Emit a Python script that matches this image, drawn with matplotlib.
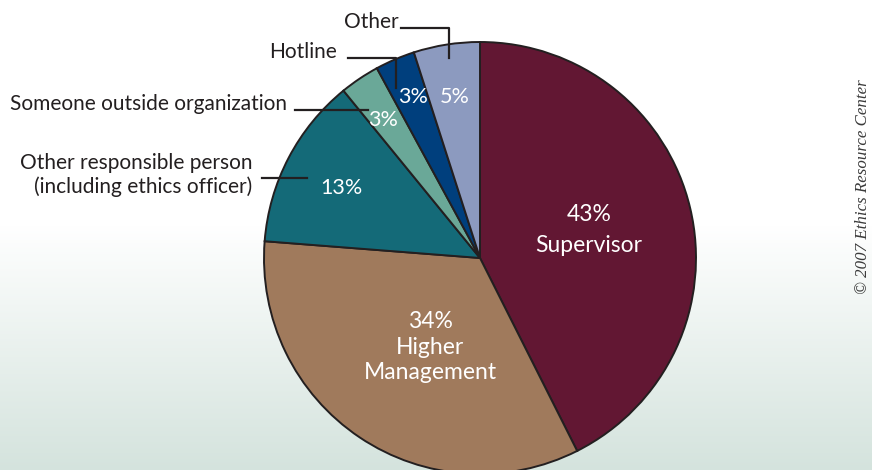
import numpy as np
import matplotlib
matplotlib.use("Agg")
import matplotlib.pyplot as plt
from matplotlib.colors import to_rgb

categories = ["Supervisor", "Higher Management", "Other responsible person (including ethics officer)",
              "Someone outside organization", "Hotline", "Other"]
values = [43, 34, 13, 3, 3, 5]
colors = ["#621733", "#a07a5c", "#146a78", "#6aa898", "#003f7d", "#8c9abf"]
inner_labels = ["43%\nSupervisor", "34%\nHigher\nManagement", "13%", "3%", "3%", "5%"]
outer_labels = ["", "", "Other responsible person\n(including ethics officer)",
                "Someone outside organization", "Hotline", "Other"]

W, H = 872, 470
fig = plt.figure(figsize=(W / 100, H / 100), dpi=100)
ax = fig.add_axes([0, 0, 1, 1])

# background gradient
top = np.array(to_rgb("#ffffff"))
bot = np.array(to_rgb("#d4e3dd"))
ys = np.arange(H)
t = np.clip((ys - 225) / (H - 225), 0, 1)
grad = top[None, :] * (1 - t[:, None]) + bot[None, :] * t[:, None]
img = np.repeat(grad[:, None, :], 2, axis=1)
ax.imshow(img, extent=[0, W, 0, H], aspect="auto", zorder=0, origin="upper")

font = "Lato"
cx, cy, r = 480, H - 258, 216
wedges, _ = ax.pie(values, colors=colors, startangle=90, counterclock=False,
                   center=(cx, cy), radius=r, frame=True,
                   wedgeprops=dict(edgecolor="#231f20", linewidth=1.4))
ax.set_xlim(0, W)
ax.set_ylim(0, H)
ax.set_aspect("equal")
ax.axis("off")

# inner labels (pixel positions)
inner_pos = [(589, 230), (430, 347), (341, 188), (383, 120), (413, 97), (455, 97)]
inner_size = [16.5, 16.5, 15.5, 15.5, 15.5, 15.5]
inner_ls = [1.55, 1.25, 1.2, 1.2, 1.2, 1.2]
for lab, (x, y), fs, ls in zip(inner_labels, inner_pos, inner_size, inner_ls):
    ax.text(x, H - y, lab, color="white", fontsize=fs, family=font,
            ha="center", va="center", linespacing=ls, zorder=5)

# outer labels with leader lines
lc = "#231f20"
ofs = 15
ax.text(399, H - 22, outer_labels[5], fontsize=ofs, family=font, ha="right", va="center", color="#231f20")
ax.plot([401, 449, 449], [H - 28, H - 28, H - 58], color=lc, lw=1.6, zorder=6)
ax.text(337, H - 52, outer_labels[4], fontsize=ofs, family=font, ha="right", va="center", color="#231f20")
ax.plot([348, 396, 396], [H - 58, H - 58, H - 88], color=lc, lw=1.6, zorder=6)
ax.text(287, H - 104, outer_labels[3], fontsize=ofs, family=font, ha="right", va="center", color="#231f20")
ax.plot([295, 368], [H - 110, H - 110], color=lc, lw=1.6, zorder=6)
ax.text(252, H - 175, outer_labels[2], fontsize=ofs, family=font, ha="right", va="center",
        color="#231f20", multialignment="right", linespacing=1.15)
ax.plot([262, 307], [H - 178, H - 178], color=lc, lw=1.6, zorder=6)

# copyright
ax.text(863, H - 187, "© 2007 Ethics Resource Center", rotation=90, fontsize=12.2,
        family="Liberation Serif", style="italic", ha="center", va="center", color="#3a3a3a")

fig.savefig("out.png", dpi=100)
